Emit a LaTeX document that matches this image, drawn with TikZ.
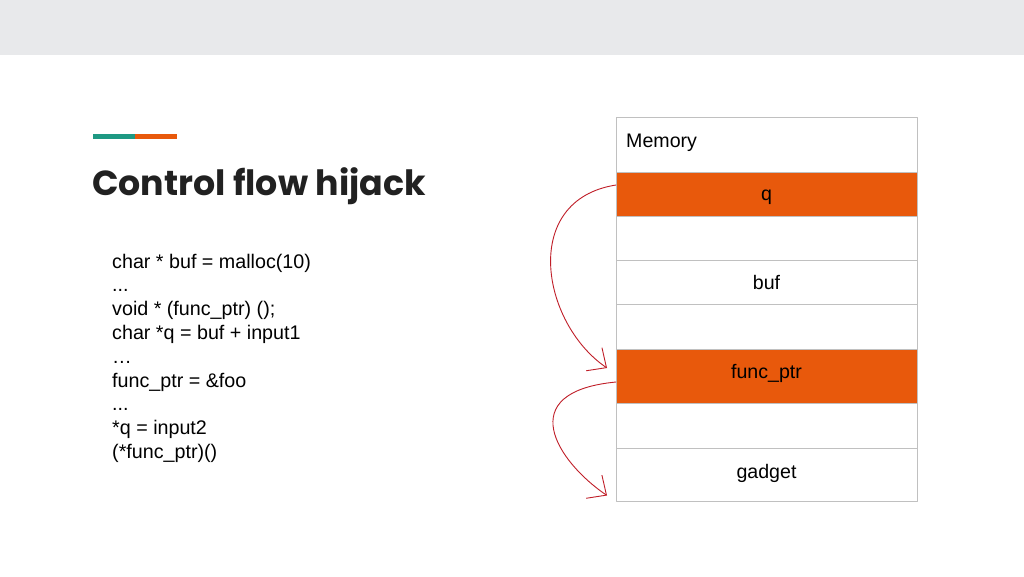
\documentclass[tikz,border=0pt]{standalone}
\usepackage{fontspec}
\setmainfont{Liberation Sans}
\newfontfamily\titlefont{Poppins}
\usetikzlibrary{positioning,arrows.meta}
\definecolor{bandgray}{RGB}{232,233,235}
\definecolor{hotorange}{RGB}{232,89,12}
\definecolor{accentteal}{RGB}{30,153,131}
\definecolor{cellgray}{RGB}{192,192,192}
\definecolor{jumpred}{RGB}{192,30,40}
\tikzset{
  cell/.style={draw=cellgray, line width=1pt, minimum width=301pt, inner sep=0pt, outer sep=0pt, text height=14pt, text depth=2pt, font=\fontsize{19.6}{22}\selectfont},
  hot/.style={cell, fill=hotorange},
  jump/.style={jumpred, line width=0.9pt, -{Straight Barb[length=15pt,width=28pt]}},
}
\begin{document}
\begin{tikzpicture}[x=1pt,y=-1pt, line join=round, line cap=round]
	\useasboundingbox (0,0) rectangle (1024,576);
	\fill[white] (0,0) rectangle (1024,576);
	\fill[bandgray] (0,0) rectangle (1024,55);
	
	% title
	\draw[accentteal, line width=5pt, line cap=butt] (93,136) -- (135,136);
	\draw[hotorange, line width=5pt, line cap=butt] (135,136) -- (177,136);
	\node[anchor=base west, inner sep=0pt, text=black!87, font=\titlefont\bfseries\fontsize{34.8}{40}\selectfont] (title) at (92,195) {Control flow hijack};
	
	% code
	\foreach \line [count=\i from 0] in {{char * buf = malloc(10)}, {{.}..}, {void * (func\_ptr) ();}, {char *q = buf + input1}, {…}, {func\_ptr = \&foo}, {{.}..}, {*q = input2}, {(*func\_ptr)()}}
		\node[anchor=base west, inner sep=0pt, font=\fontsize{19.7}{22}\selectfont] (code\i) at (112,268+23.8*\i) {\line};
	
	% memory
	\node[cell, minimum height=55pt, anchor=north west] (mem) at (616,117) {};
	\node[anchor=base west, inner sep=0pt, font=\fontsize{19.6}{22}\selectfont] (memlabel) at ([xshift=10pt,yshift=-2.5pt]mem.west) {Memory};
	\node[hot, minimum height=44pt, below=0pt of mem] (q) {q};
	\node[cell, minimum height=44pt, below=0pt of q] (free1) {};
	\node[cell, minimum height=44pt, text depth=0pt, below=0pt of free1] (buf) {buf};
	\node[cell, minimum height=45pt, below=0pt of buf] (free2) {};
	\node[hot, minimum height=54pt, text depth=10pt, below=0pt of free2] (fptr) {func\_ptr};
	\node[cell, minimum height=45pt, below=0pt of fptr] (free3) {};
	\node[cell, minimum height=53pt, text depth=7pt, below=0pt of free3] (gadget) {gadget};
	
	% jumps
	\coordinate (hit1) at ([xshift=-9pt,yshift=8pt]fptr.west);
	\coordinate (hit2) at ([xshift=-9pt,yshift=-21pt]gadget.west);
	\draw[jump] ([yshift=9pt]q.west) .. controls +(-96,15) and +(-66,-45) .. (hit1);
	\draw[jump] ([yshift=-6pt]fptr.west) .. controls +(-104,10) and +(-50,-34) .. (hit2);
\end{tikzpicture}
\end{document}
